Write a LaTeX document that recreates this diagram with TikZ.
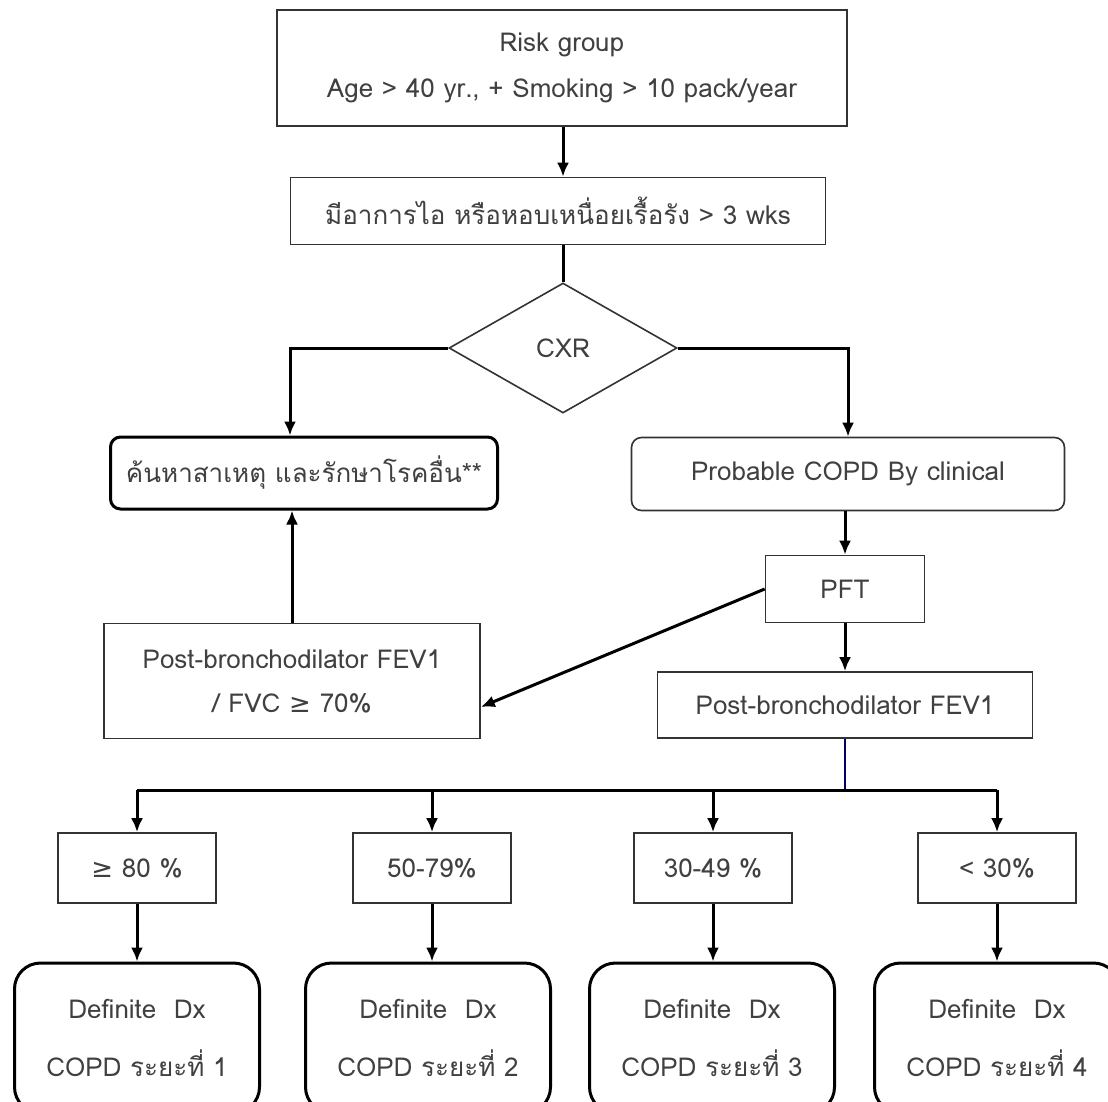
\documentclass[tikz,border=0pt]{standalone}
\usepackage{fontspec}
\setmainfont[Script=Thai]{Loma}
\newfontfamily\symfont{DejaVu Sans}
\usetikzlibrary{shapes.geometric,arrows.meta,calc}
\begin{document}
\begin{tikzpicture}[x=1pt,y=-1pt,
  every node/.style={font=\fontsize{26}{30}\selectfont, text=black!75, align=center},
  box/.style={draw=black!80, line width=1.6pt, inner sep=0pt, fill=white},
  rbox/.style={box, rounded corners=10pt},
  tbox/.style={draw=black, line width=3pt, rounded corners=10pt, inner sep=0pt},
  dbox/.style={draw=black, line width=3pt, rounded corners=26pt, inner sep=0pt},
  arr/.style={line width=3pt, -{Latex[length=14pt,width=12pt]}},
  ln/.style={line width=3pt}]
\useasboundingbox (0,0) rectangle (1108,1101);
\fill[white] (0,0) rectangle (1108,1101);

\node[box, minimum width=570pt, minimum height=116pt] (risk) at (562,68)
  {Risk group\\[16pt]Age > 40 yr., + Smoking > 10 pack/year};
\node[box, minimum width=535pt, minimum height=67pt] (sym) at (558,211)
  {มีอาการไอ หรือหอบเหนื่อยเรื้อรัง > 3 wks};
\node[diamond, draw=black!80, line width=1.6pt, minimum width=228pt, minimum height=130pt, inner sep=0pt, aspect=1.75] (cxr) at (563,348) {CXR};
\node[tbox, minimum width=387pt, minimum height=72pt] (other) at (304,473)
  {ค้นหาสาเหตุ และรักษาโรคอื่น**};
\node[rbox, minimum width=433pt, minimum height=73pt] (prob) at (848,474)
  {Probable COPD By clinical};
\node[box, minimum width=159pt, minimum height=67pt] (pft) at (845,589) {PFT};
\node[box, minimum width=376pt, minimum height=115pt] (fvc) at (292,681)
  {Post-bronchodilator FEV1\\[14pt]/ FVC {\symfont ≥} 70\%};
\node[box, minimum width=375pt, minimum height=66pt] (fev) at (845,705)
  {Post-bronchodilator FEV1};

\coordinate (bus) at (845,790);
\foreach \i/\x/\t/\rx in {1/137/{\symfont ≥} 80 \%/137, 2/432/50-79\%/428, 3/713/30-49 \%/712, 4/997/< 30\%/997} {
  \node[box, minimum width=158pt, minimum height=70pt] (p\i) at (\x,868) {\t};
  \node[dbox, minimum width=245pt, minimum height=150pt] (d\i) at (\rx+0,1038)
    {Definite\ \ Dx\\[28pt]COPD ระยะที่ \i};
  \coordinate (t\i) at (\x,790);
  \draw[arr] (t\i) -- (p\i.north);
  \draw[arr] (p\i.south) -- (d\i.north -| p\i.south);
}

\draw[arr] (risk.south -| cxr.north) -- (sym.north -| cxr.north);
\draw[ln] (sym.south -| cxr.north) -- (cxr.north);
\draw[arr] (cxr.west) -| (other.north -| 290,0);
\draw[arr] (cxr.east) -| (prob.north);
\draw[arr] (prob.south -| pft.north) -- (pft.north);
\draw[arr] (pft) -- (fev);
\draw[arr] (pft.west) -- ($(fvc.east)+(0,26)$);
\draw[arr] (fvc.north) -- (other.south -| fvc.north);
\draw[line width=1.4pt, draw=blue!40!black] (fev.south) -- (bus);
\draw[ln] (t1) -- (t4);
\end{tikzpicture}
\end{document}
